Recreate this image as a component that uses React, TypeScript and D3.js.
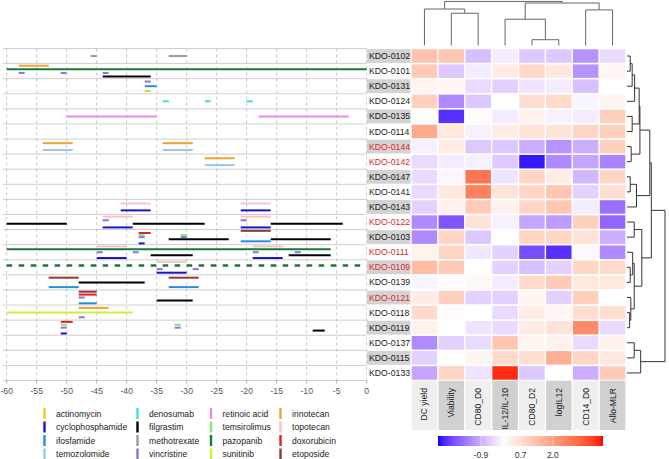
import React from "react";
import * as d3 from "d3";

// ---------- data ----------
const patients = ["KDO-0102","KDO-0101","KDO-0131","KDO-0124","KDO-0135","KDO-0114","KDO-0144","KDO-0142","KDO-0147","KDO-0141","KDO-0143","KDO-0122","KDO-0103","KDO-0111","KDO-0109","KDO-0139","KDO-0121","KDO-0118","KDO-0119","KDO-0137","KDO-0115","KDO-0133"];
const redPatients = ["KDO-0144","KDO-0142","KDO-0122","KDO-0111","KDO-0109","KDO-0121"];
const features = ["DC yield","Viability","CD80_D0","IL-12/IL-10","CD80_D2","logIL12","CD14_D0","Allo-MLR"];
const drugs = ["actinomycin","cyclophosphamide","ifosfamide","temozolomide","denosumab","filgrastim","methotrexate","vincristine","retinoic acid","temsirolimus","pazopanib","sunitinib","irinotecan","topotecan","doxorubicin","etoposide"];
const drugColors = ["#ddd21c","#1616c8","#2a8ce0","#98c8f0","#3ee0e4","#000000","#9a9a9a","#9070dc","#f086ec","#7ee87e","#177a34","#ccee3c","#f0a232","#f8c4c8","#e01e1e","#8c3a3a"];

// [patient, drug, start, end, ongoing]
const treatments: [string, string, number, number, boolean][] = [
  ["KDO-0102","methotrexate",-46,-45,false],["KDO-0102","methotrexate",-33,-30,false],
  ["KDO-0101","irinotecan",-58,-53,false],["KDO-0101","pazopanib",-60,0,false],
  ["KDO-0101","vincristine",-58,-57,false],["KDO-0101","vincristine",-51,-50,false],["KDO-0101","vincristine",-44,-43,false],
  ["KDO-0101","filgrastim",-44,-36,false],
  ["KDO-0131","vincristine",-37,-36,false],["KDO-0131","ifosfamide",-37,-35,false],["KDO-0131","actinomycin",-37,-36,false],
  ["KDO-0124","denosumab",-34,-33,false],["KDO-0124","denosumab",-27,-26,false],["KDO-0124","denosumab",-20,-19,false],
  ["KDO-0135","retinoic acid",-50,-35,false],["KDO-0135","retinoic acid",-18,-3,false],
  ["KDO-0144","irinotecan",-54,-49,false],["KDO-0144","irinotecan",-34,-29,false],
  ["KDO-0144","temozolomide",-54,-49,false],["KDO-0144","temozolomide",-34,-29,false],
  ["KDO-0142","irinotecan",-27,-22,false],["KDO-0142","temozolomide",-27,-22,false],
  ["KDO-0143","topotecan",-41,-36,false],["KDO-0143","topotecan",-21,-16,false],
  ["KDO-0143","cyclophosphamide",-41,-36,false],["KDO-0143","cyclophosphamide",-21,-16,false],
  ["KDO-0122","topotecan",-44,-39,false],["KDO-0122","topotecan",-21,-16,false],
  ["KDO-0122","vincristine",-44,-43,false],["KDO-0122","vincristine",-21,-20,false],
  ["KDO-0122","filgrastim",-60,-50,false],["KDO-0122","filgrastim",-39,-27,false],["KDO-0122","filgrastim",-16,-4,false],
  ["KDO-0122","cyclophosphamide",-44,-39,false],["KDO-0122","cyclophosphamide",-21,-16,false],
  ["KDO-0103","etoposide",-21,-16,false],["KDO-0103","doxorubicin",-38,-36,false],
  ["KDO-0103","temsirolimus",-38,-37,false],["KDO-0103","temsirolimus",-31,-30,false],
  ["KDO-0103","vincristine",-38,-37,false],["KDO-0103","vincristine",-31,-30,false],
  ["KDO-0103","filgrastim",-33,-23,false],["KDO-0103","filgrastim",-16,-6,false],
  ["KDO-0103","ifosfamide",-21,-16,false],["KDO-0103","cyclophosphamide",-38,-37,false],
  ["KDO-0111","topotecan",-45,-40,false],["KDO-0111","topotecan",-19,-14,false],
  ["KDO-0111","pazopanib",-60,-6,false],
  ["KDO-0111","vincristine",-45,-44,false],["KDO-0111","vincristine",-39,-38,false],["KDO-0111","vincristine",-19,-18,false],["KDO-0111","vincristine",-12,-11,false],
  ["KDO-0111","filgrastim",-36,-29,false],["KDO-0111","filgrastim",-13,-6,false],
  ["KDO-0111","cyclophosphamide",-45,-40,false],["KDO-0111","cyclophosphamide",-19,-14,false],
  ["KDO-0109","topotecan",-35,-30,false],["KDO-0109","pazopanib",-60,-1,true],
  ["KDO-0109","vincristine",-35,-34,false],["KDO-0109","vincristine",-29,-28,false],
  ["KDO-0109","cyclophosphamide",-35,-30,false],
  ["KDO-0139","etoposide",-53,-48,false],["KDO-0139","etoposide",-33,-28,false],
  ["KDO-0139","filgrastim",-48,-37,false],
  ["KDO-0139","ifosfamide",-53,-48,false],["KDO-0139","ifosfamide",-33,-28,false],
  ["KDO-0121","etoposide",-48,-45,false],["KDO-0121","doxorubicin",-48,-45,false],["KDO-0121","vincristine",-48,-47,false],
  ["KDO-0121","filgrastim",-35,-29,false],["KDO-0121","ifosfamide",-48,-45,false],
  ["KDO-0118","irinotecan",-48,-43,false],["KDO-0118","sunitinib",-60,-39,false],["KDO-0118","vincristine",-48,-47,false],
  ["KDO-0119","doxorubicin",-51,-49,false],
  ["KDO-0119","temsirolimus",-51,-50,false],["KDO-0119","temsirolimus",-32,-31,false],
  ["KDO-0119","vincristine",-51,-50,false],["KDO-0119","vincristine",-32,-31,false],
  ["KDO-0119","filgrastim",-9,-7,false],["KDO-0119","cyclophosphamide",-51,-50,false],
];

const heatValues = [
  [1.3, 1.2, -0.7, -0.2, -0.6, -0.6, -1.2, -0.4],
  [1.1, -0.6, -0.2, 0.4, 0.8, 0.5, -1.2, 0.2],
  [0.2, 0.15, -0.4, -0.5, -0.3, -0.2, -0.7, 0.0],
  [1.0, -1.3, -0.6, 0.0, 0.7, 0.8, -0.1, 0.2],
  [0.05, -2.3, 0.05, -0.2, 0.3, -0.15, -0.2, 1.0],
  [1.8, 0.5, -0.15, 0.4, 0.6, 0.6, 0.9, 1.0],
  [-0.15, 0.4, -0.6, -0.6, -0.9, -1.2, -0.9, 1.0],
  [-0.4, -0.2, -0.15, -0.6, -2.5, -1.3, -1.0, -1.4],
  [-0.4, -0.1, 2.8, -0.3, 0.9, 0.4, -0.8, 0.9],
  [-0.4, 0.5, 2.6, 0.6, 0.9, 1.2, -0.5, 0.7],
  [-0.5, 0.3, 1.1, 0.3, 0.9, 1.2, -0.2, -1.6],
  [-1.3, -1.9, 0.6, -0.15, -1.0, -1.1, 1.0, -1.7],
  [-1.3, 0.9, -0.6, 0.0, 0.9, 0.9, 0.6, -0.9],
  [0.25, 0.9, -0.25, -0.5, -2.0, -2.3, -0.05, -1.3],
  [1.4, 1.1, 0.0, -0.5, -0.7, -0.5, 0.9, 0.8],
  [-0.1, 0.05, 0.15, -0.2, 0.8, 1.1, 0.5, 0.5],
  [0.4, 1.0, -0.5, -0.5, 0.2, -0.5, 1.0, 0.0],
  [0.8, 0.05, 0.0, -0.4, 0.4, 0.2, 0.7, 0.7],
  [0.3, 0.0, -0.3, -0.4, 0.4, 0.6, 2.4, -0.4],
  [-1.3, -0.5, -0.4, 1.2, 0.2, 0.3, -0.4, 0.3],
  [-0.5, 0.0, 0.2, 0.8, 0.7, 1.7, 0.9, 0.5],
  [-1.0, 0.9, -0.3, 3.8, -0.6, 0.0, -0.9, 1.1],
];

const xTicks = [-60, -55, -50, -45, -40, -35, -30, -25, -20, -15, -10, -5, 0];
const colorTicks = [-0.9, 0.7, 2.0];
const colorDomain = [-2.63, 0, 4.02];

// dendrograms: [height, left, right]; leaves are indices
type Tree = number | [number, Tree, Tree];
const colTree: Tree = [9.9, [8.2, 0, [7.25, 1, 2]], [9.55, [5.9, 3, [1.3, 4, 5]], [8.0, 6, 7]]];
const rowTree: Tree = [10,
  [6.4,
    [6.0,
      [3.4, [3.2, [2.0, [1.36, [0.85, 0, 1], 2], 3], [1.36, 4, 5]], [1.1, 6, 7]],
      [2.5, [0.85, 8, 9], 10]],
    [3.9, [1.9, 11, 12], [1.9, [1.5, 13, [0.85, 14, 15]], [1.0, 16, [0.7, 17, 18]]]]],
  [3.6, [1.9, 19, 20], 21]];

// ---------- layout ----------
const W = 669, H = 459;
const FONT = "'Liberation Sans', Arial, Helvetica, sans-serif";

type Seg = { a: [number, number]; b: [number, number] };
function dendro(t: Tree, leafPos: (i: number) => number, segs: Seg[]): { p: number; h: number } {
  if (!Array.isArray(t)) return { p: leafPos(t), h: 0 };
  const [h, l, r] = t;
  const L = dendro(l, leafPos, segs);
  const R = dendro(r, leafPos, segs);
  segs.push({ a: [L.p, L.h], b: [L.p, h] });
  segs.push({ a: [R.p, R.h], b: [R.p, h] });
  segs.push({ a: [L.p, h], b: [R.p, h] });
  return { p: (L.p + R.p) / 2, h };
}

export default function App() {
  const x = d3.scaleLinear().domain([-60, 0]).range([6.7, 366.7]);
  const yBand = d3.scaleBand<string>().domain(patients).range([48.5, 380.5]).padding(0);
  const bw = yBand.bandwidth();
  const colBand = d3.scaleBand<string>().domain(features).range([411, 626]).padding(0);
  const cw = colBand.bandwidth();
  const heatColor = d3.scaleLinear<string>().domain(colorDomain).range(["#0000ff", "#ffffff", "#ff0000"]).interpolate(d3.interpolateLab);
  const cbX = d3.scaleLinear().domain([colorDomain[0], colorDomain[2]]).range([438, 603]);

  // drug slot positions within each patient row
  const slotY = new Map<string, number>();
  patients.forEach((p) => {
    const present = Array.from(new Set(treatments.filter((t) => t[0] === p).map((t) => t[1])));
    present.sort((a, b) => drugs.indexOf(b) - drugs.indexOf(a));
    const n = present.length;
    present.forEach((d, k) => {
      slotY.set(p + "|" + d, (yBand(p) as number) + ((k + 0.6) * bw) / (n + 0.2));
    });
  });

  const colSegs: Seg[] = [];
  dendro(colTree, (i) => (colBand(features[i]) as number) + cw / 2, colSegs);
  const colH = d3.scaleLinear().domain([0, 10]).range([45.5, 1]);
  const rowSegs: Seg[] = [];
  dendro(rowTree, (i) => (yBand(patients[i]) as number) + bw / 2, rowSegs);
  const rowH = d3.scaleLinear().domain([0, 10]).range([627, 665]);

  const gradStops = d3.range(0, 41).map((i) => {
    const v = colorDomain[0] + ((colorDomain[2] - colorDomain[0]) * i) / 40;
    return { off: i / 40, c: heatColor(v) };
  });

  const legendColX = [44.5, 137.5, 211, 280.5];
  const legendRowY = [413.5, 427, 440.5, 454];

  return (
    <svg width={W} height={H} style={{ position: "absolute", left: 0, top: 0, background: "#fff" }} fontFamily={FONT}>
      <rect x={0} y={0} width={W} height={H} fill="#fff" />
      <defs>
        <linearGradient id="cb" x1="0" x2="1" y1="0" y2="0">
          {gradStops.map((s, i) => (
            <stop key={i} offset={s.off} stopColor={s.c} />
          ))}
        </linearGradient>
      </defs>

      {/* left panel grid */}
      {d3.range(patients.length + 1).map((i) => {
        const yy = i < patients.length ? (yBand(patients[i]) as number) : 380.5;
        return <line key={"h" + i} x1={3} x2={366.5} y1={yy} y2={yy} stroke="#cfcfcf" strokeWidth={1} />;
      })}
      {xTicks.map((t) => (
        <g key={"v" + t}>
          <line x1={x(t)} x2={x(t)} y1={48.5} y2={380.5} stroke="#b8b8b8" strokeWidth={0.8} strokeDasharray="3,3" />
          <line x1={x(t)} x2={x(t)} y1={380.5} y2={383.5} stroke="#999" strokeWidth={0.8} />
          <text x={x(t)} y={394} textAnchor="middle" fontSize={8.6} fill="#555">{t}</text>
        </g>
      ))}

      {/* treatments */}
      {treatments.map((t, i) => {
        const yy = slotY.get(t[0] + "|" + t[1]) as number;
        return (
          <line key={"t" + i} x1={x(t[2])} x2={x(t[3])} y1={yy} y2={yy}
            stroke={drugColors[drugs.indexOf(t[1])]} strokeWidth={t[4] ? 2.4 : 2}
            strokeDasharray={t[4] ? "5.5,6.5" : undefined} />
        );
      })}

      {/* row labels */}
      {patients.map((p, i) => (
        <g key={"rl" + p}>
          <rect x={367} y={(yBand(p) as number) + 0.6} width={43.5} height={bw - 1.2} fill={i % 2 === 0 ? "#d3d3d3" : "#ffffff"} />
          <text x={369} y={(yBand(p) as number) + bw / 2} dy="0.35em" fontSize={8.7}
            fill={redPatients.includes(p) ? "#e3262a" : "#1a1a1a"}>{p}</text>
        </g>
      ))}

      {/* heatmap */}
      {patients.map((p, i) =>
        features.map((f, j) => (
          <rect key={"c" + i + "-" + j} x={(colBand(f) as number) + 0.7} y={(yBand(p) as number) + 0.8}
            width={cw - 1.4} height={bw - 1.6} fill={heatColor(heatValues[i][j])} />
        ))
      )}

      {/* column labels */}
      {features.map((f, j) => {
        const cx = (colBand(f) as number) + cw / 2;
        return (
          <g key={"cl" + f}>
            <rect x={(colBand(f) as number) + 0.7} y={380.7} width={cw - 1.4} height={49.3} fill={j % 2 === 0 ? "#efefef" : "#d1d1d1"} />
            <text transform={`translate(${cx},388) rotate(-90)`} textAnchor="end" dy="0.35em" fontSize={8.6} fill="#1a1a1a">{f}</text>
          </g>
        );
      })}

      {/* dendrograms */}
      {colSegs.map((s, i) => (
        <line key={"cd" + i} x1={s.a[0]} x2={s.b[0]} y1={colH(s.a[1])} y2={colH(s.b[1])} stroke="#666" strokeWidth={1} />
      ))}
      {rowSegs.map((s, i) => (
        <line key={"rd" + i} x1={rowH(s.a[1])} x2={rowH(s.b[1])} y1={s.a[0]} y2={s.b[0]} stroke="#333" strokeWidth={1} />
      ))}

      {/* color bar */}
      <rect x={438} y={436} width={165} height={10} fill="url(#cb)" />
      {colorTicks.map((t) => (
        <g key={"ct" + t}>
          <line x1={cbX(t)} x2={cbX(t)} y1={436} y2={446} stroke="#fff" strokeOpacity={0.5} strokeWidth={0.8} />
          <text x={cbX(t)} y={458} textAnchor="middle" fontSize={8.6} fill="#333">{t.toFixed(1)}</text>
        </g>
      ))}

      {/* legend */}
      {drugs.map((d, i) => {
        const col = Math.floor(i / 4), row = i % 4;
        const lx = legendColX[col], ly = legendRowY[row];
        return (
          <g key={"lg" + d}>
            <rect x={lx - 1.2} y={ly - 5.5} width={2.4} height={11} fill={drugColors[i]} />
            <text x={lx + 11.5} y={ly} dy="0.35em" fontSize={8.6} fill="#222">{d}</text>
          </g>
        );
      })}
    </svg>
  );
}
